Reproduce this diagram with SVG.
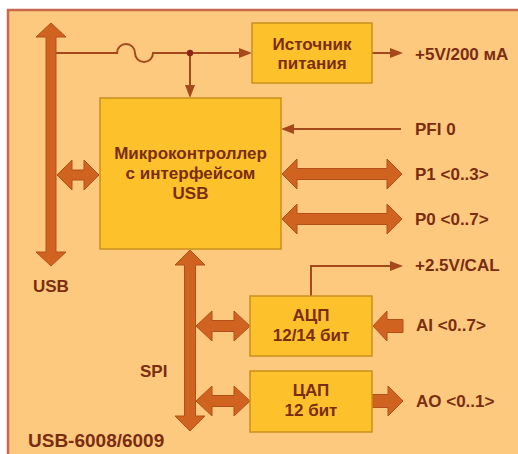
<svg xmlns="http://www.w3.org/2000/svg" width="518" height="454" viewBox="0 0 518 454">
<style>
.box{fill:#FDC22B;stroke:#C9901C;stroke-width:1.5}
.arr{fill:#D0631F;stroke:#B3501A;stroke-width:1}
.ln{fill:none;stroke:#A5481C;stroke-width:2}
.ah{fill:#A5481C}
text{font-family:"Liberation Sans",Arial,sans-serif;font-weight:bold;font-size:17px;fill:#7B2D12}
.c{text-anchor:middle}
</style>
<rect x="0" y="0" width="518" height="454" fill="#FFFFFF"/>
<rect x="8" y="10" width="520" height="460" fill="#FDC97E" stroke="#C8694E" stroke-width="2.5"/>

<g id="connectors">
  <!-- power line with fuse -->
  <path class="ln" d="M55,53 H117 A9,9 0 0 1 135,53 A9,9 0 0 0 153,53 H240"/>
  <polygon class="ah" points="252,53 239,48 239,58"/>
  <path class="ln" d="M190,53 V86"/>
  <polygon class="ah" points="190,98 185,85 195,85"/>
  <circle cx="190" cy="53" r="3.2" fill="#8E2418"/>
  <path class="ln" d="M372,53 H391"/>
  <polygon class="ah" points="403,53 390,48 390,58"/>
  <path class="ln" d="M401,129 H293"/>
  <polygon class="ah" points="281,129 294,124 294,134"/>
  <path class="ln" d="M311,296 V266 H391"/>
  <polygon class="ah" points="403,266 390,261 390,271"/>
  <!-- USB bus -->
  <polygon class="arr" points="51,23 66,37 56,37 56,252 66,252 51,266 36,252 46,252 46,37 36,37"/>
  <!-- SPI bus -->
  <polygon class="arr" points="190,250 205,265 195.5,265 195.5,416 205,416 190,431 175,416 184.5,416 184.5,265 175,265"/>
  <!-- USB <-> MCU -->
  <polygon class="arr" points="57,175 72,160 72,170 84,170 84,160 99,175 84,190 84,180 72,180 72,190"/>
  <!-- P1 -->
  <polygon class="arr" points="282,174 297,159 297,168.5 387,168.5 387,159 402,174 387,189 387,179.5 297,179.5 297,189"/>
  <!-- P0 -->
  <polygon class="arr" points="282,219 297,204 297,213.5 387,213.5 387,204 402,219 387,234 387,224.5 297,224.5 297,234"/>
  <!-- SPI <-> ADC -->
  <polygon class="arr" points="196,326 212,311 212,320.5 234,320.5 234,311 250,326 234,341 234,331.5 212,331.5 212,341"/>
  <!-- SPI <-> DAC -->
  <polygon class="arr" points="196,401 212,386 212,395.5 234,395.5 234,386 250,401 234,416 234,406.5 212,406.5 212,416"/>
  <!-- AI -->
  <polygon class="arr" points="373,326 387,311 387,319.5 403,319.5 403,332.5 387,332.5 387,341"/>
  <!-- AO -->
  <polygon class="arr" points="403,401 388,386 388,394.5 372,394.5 372,407.5 388,407.5 388,416"/>
</g>

<g id="mcu">
  <rect class="box" x="100" y="98" width="181" height="151"/>
  <text class="c" x="190.5" y="159">Микроконтроллер</text>
  <text class="c" x="190.5" y="179">с интерфейсом</text>
  <text class="c" x="190.5" y="199">USB</text>
</g>
<g id="power">
  <rect class="box" x="252" y="23" width="120" height="60"/>
  <text class="c" x="312" y="50">Источник</text>
  <text class="c" x="312" y="69">питания</text>
</g>
<g id="adc">
  <rect class="box" x="250" y="296" width="122" height="60"/>
  <text class="c" x="311" y="321">АЦП</text>
  <text class="c" x="311" y="341">12/14 бит</text>
</g>
<g id="dac">
  <rect class="box" x="250" y="371" width="122" height="61"/>
  <text class="c" x="311" y="396">ЦАП</text>
  <text class="c" x="311" y="416">12 бит</text>
</g>

<g id="labels">
  <text x="415" y="60">+5V/200 мА</text>
  <text x="415" y="135">PFI 0</text>
  <text x="415" y="180">P1 &lt;0..3&gt;</text>
  <text x="415" y="225">P0 &lt;0..7&gt;</text>
  <text x="415" y="271">+2.5V/CAL</text>
  <text x="416" y="331">AI &lt;0..7&gt;</text>
  <text x="416" y="407">AO &lt;0..1&gt;</text>
  <text x="33" y="292">USB</text>
  <text x="140" y="377">SPI</text>
  <text x="28" y="447" style="font-size:19px">USB-6008/6009</text>
</g>
</svg>
